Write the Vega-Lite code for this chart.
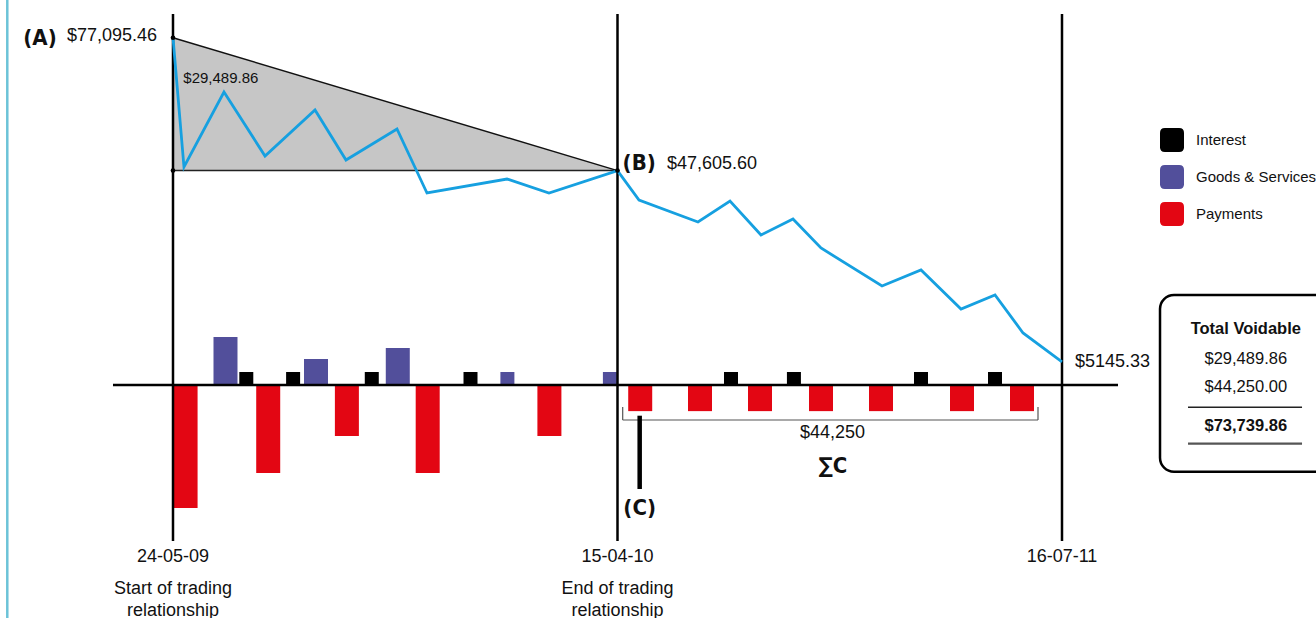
{
  "$schema": "https://vega.github.io/schema/vega-lite/v6.json",
  "width": 1316,
  "height": 618,
  "autosize": "none",
  "padding": 0,
  "background": "white",
  "config": {
    "view": {"stroke": null},
    "text": {"font": "Liberation Sans", "color": "#111111"},
    "legend": {
      "orient": "none",
      "legendX": 1160,
      "legendY": 128,
      "padding": 0,
      "symbolType": "M-0.6,-1L0.6,-1Q1,-1,1,-0.6L1,0.6Q1,1,0.6,1L-0.6,1Q-1,1,-1,0.6L-1,-0.6Q-1,-1,-0.6,-1Z",
      "symbolSize": 576,
      "symbolStrokeWidth": 0,
      "symbolOpacity": 1,
      "labelFont": "Liberation Sans",
      "labelFontSize": 15,
      "labelColor": "#111111",
      "labelOffset": 12,
      "labelLimit": 400,
      "rowPadding": 13
    }
  },
  "datasets": {
    "balance": [
      {"t": 0, "value": 77095.46},
      {"t": 2.47, "value": 48396},
      {"t": 11.47, "value": 65046},
      {"t": 20.7, "value": 50838},
      {"t": 31.95, "value": 61050},
      {"t": 38.92, "value": 49950},
      {"t": 50.39, "value": 56832},
      {"t": 57.14, "value": 42624},
      {"t": 75.14, "value": 45732},
      {"t": 84.59, "value": 42624},
      {"t": 100, "value": 47605.6},
      {"t": 104.84, "value": 41070},
      {"t": 118.11, "value": 36186},
      {"t": 125.31, "value": 40848},
      {"t": 132.28, "value": 33300},
      {"t": 139.48, "value": 36852},
      {"t": 145.78, "value": 30414},
      {"t": 159.51, "value": 21978},
      {"t": 168.28, "value": 25530},
      {"t": 177.28, "value": 16872},
      {"t": 184.93, "value": 19980},
      {"t": 191.23, "value": 11544},
      {"t": 200, "value": 5145.33}
    ],
    "transactions": [
      {"t": 2.83, "type": "Payments", "value": -27306},
      {"t": 21.42, "type": "Payments", "value": -19536},
      {"t": 39.12, "type": "Payments", "value": -11322},
      {"t": 57.3, "type": "Payments", "value": -19536},
      {"t": 84.68, "type": "Payments", "value": -11322},
      {"t": 105.11, "type": "Payments", "value": -5800},
      {"t": 118.56, "type": "Payments", "value": -5800},
      {"t": 132.06, "type": "Payments", "value": -5800},
      {"t": 145.78, "type": "Payments", "value": -5800},
      {"t": 159.28, "type": "Payments", "value": -5800},
      {"t": 177.5, "type": "Payments", "value": -5800},
      {"t": 191.0, "type": "Payments", "value": -5800},
      {"t": 11.81, "type": "Goods & Services", "value": 10656},
      {"t": 32.17, "type": "Goods & Services", "value": 5772},
      {"t": 50.57, "type": "Goods & Services", "value": 8214},
      {"t": 75.23, "type": "Goods & Services", "value": 2886},
      {"t": 98.29, "type": "Goods & Services", "value": 2886},
      {"t": 16.49, "type": "Interest", "value": 2886},
      {"t": 27.02, "type": "Interest", "value": 2886},
      {"t": 44.72, "type": "Interest", "value": 2886},
      {"t": 66.93, "type": "Interest", "value": 2886},
      {"t": 125.53, "type": "Interest", "value": 2886},
      {"t": 139.69, "type": "Interest", "value": 2886},
      {"t": 168.28, "type": "Interest", "value": 2886},
      {"t": 184.93, "type": "Interest", "value": 2886}
    ],
    "gap": [
      {"t": 0, "value": 77095.46, "base": 47605.6},
      {"t": 100, "value": 47605.6, "base": 47605.6}
    ],
    "corners": [
      {"t": 0, "value": 77095.46},
      {"t": 0, "value": 47605.6},
      {"t": 100, "value": 47605.6}
    ],
    "hrules": [
      {"t": 0, "t2": 100, "value": 47605.6, "what": "gap base"},
      {"t": -13.5, "t2": 212.6, "value": 0, "what": "zero line"}
    ],
    "phases": [
      {"t": 0, "value": 82362, "value2": -34632},
      {"t": 100, "value": 82362, "value2": -34632},
      {"t": 200, "value": 82362, "value2": -34632}
    ],
    "bracket": [
      {"t": 101.17, "t2": 194.6, "value": -7770, "value2": -7770},
      {"t": 101.17, "t2": 101.17, "value": -4884, "value2": -7770},
      {"t": 194.6, "t2": 194.6, "value": -4884, "value2": -7770}
    ]
  },
  "encoding": {
    "x": {"field": "t", "type": "quantitative", "scale": {"domain": [-38.92, 257.143], "nice": false, "zero": false, "padding": 0}, "axis": null},
    "y": {"field": "value", "type": "quantitative", "scale": {"domain": [-51726, 85470], "nice": false, "zero": false, "padding": 0}, "axis": null}
  },
  "layer": [
    {
      "data": {"values": [{"t": -37.28, "value": 85470, "value2": -51726}]},
      "mark": {"type": "rule", "color": "#6cc3d8", "strokeWidth": 2.5},
      "encoding": {"y2": {"field": "value2"}}
    },
    {
      "data": {"name": "gap"},
      "mark": {"type": "area", "color": "#c6c6c6", "opacity": 1},
      "encoding": {"y2": {"field": "base"}}
    },
    {
      "data": {"name": "gap"},
      "mark": {"type": "line", "color": "#111111", "strokeWidth": 1.4},
      "encoding": {}
    },
    {
      "data": {"name": "hrules"},
      "transform": [{"filter": "datum.what == 'gap base'"}],
      "mark": {"type": "rule", "color": "#222222", "strokeWidth": 1.4},
      "encoding": {"x2": {"field": "t2"}}
    },
    {
      "data": {"name": "transactions"},
      "transform": [{"filter": "datum.type == 'Payments' || (datum.type == 'Goods & Services' && datum.value > 4000)"}],
      "mark": {"type": "bar", "width": 24, "opacity": 1},
      "encoding": {
        "y2": {"datum": 0},
        "color": {"field": "type", "type": "nominal", "scale": {"domain": ["Interest", "Goods & Services", "Payments"], "range": ["#000000", "#524f9b", "#e30613"]}, "legend": {"title": null}}
      }
    },
    {
      "data": {"name": "transactions"},
      "transform": [{"filter": "datum.type == 'Interest' || (datum.type == 'Goods & Services' && datum.value <= 4000)"}],
      "mark": {"type": "bar", "width": 14, "opacity": 1},
      "encoding": {
        "y2": {"datum": 0},
        "color": {"field": "type", "type": "nominal", "scale": {"domain": ["Interest", "Goods & Services", "Payments"], "range": ["#000000", "#524f9b", "#e30613"]}, "legend": {"title": null}}
      }
    },
    {
      "data": {"name": "hrules"},
      "transform": [{"filter": "datum.what == 'zero line'"}],
      "mark": {"type": "rule", "color": "#000000", "strokeWidth": 2.5},
      "encoding": {"x2": {"field": "t2"}}
    },
    {
      "data": {"name": "phases"},
      "mark": {"type": "rule", "color": "#000000", "strokeWidth": 2.5},
      "encoding": {"y2": {"field": "value2"}}
    },
    {
      "data": {"name": "balance"},
      "mark": {"type": "line", "color": "#16a0e0", "strokeWidth": 2.8, "strokeJoin": "miter"},
      "encoding": {}
    },
    {
      "data": {"name": "corners"},
      "mark": {"type": "circle", "color": "#000000", "size": 22, "opacity": 1},
      "encoding": {}
    },
    {
      "data": {"name": "bracket"},
      "mark": {"type": "rule", "color": "#555555", "strokeWidth": 1.2},
      "encoding": {"x2": {"field": "t2"}, "y2": {"field": "value2"}}
    },
    {
      "data": {"values": [{"t": 104.99, "value": -6815, "value2": -23088}]},
      "mark": {"type": "rule", "color": "#000000", "strokeWidth": 4.5},
      "encoding": {"y2": {"field": "value2"}}
    },
    {
      "data": {"values": [
        {"t": -23.85, "value": 77478, "text": "$77,095.46"},
        {"t": 111.14, "value": 49062, "text": "$47,605.60"},
        {"t": 202.92, "value": 5172, "text": "$5145.33"}
      ]},
      "mark": {"type": "text", "align": "left", "baseline": "middle", "fontSize": 18},
      "encoding": {"text": {"field": "text"}}
    },
    {
      "data": {"values": [
        {"t": 2.32, "value": 68087, "text": "$29,489.86"}
      ]},
      "mark": {"type": "text", "align": "left", "baseline": "middle", "fontSize": 15},
      "encoding": {"text": {"field": "text"}}
    },
    {
      "data": {"values": [
        {"t": -29.92, "value": 76967, "text": "(A)"},
        {"t": 104.88, "value": 49217, "text": "(B)"},
        {"t": 104.99, "value": -27239, "text": "(C)"},
        {"t": 148.44, "value": -17982, "text": "∑C"}
      ]},
      "mark": {"type": "text", "align": "center", "baseline": "middle", "fontSize": 22, "fontWeight": "bold", "font": "Liberation Sans Narrow, DejaVu Sans Condensed, Liberation Sans"},
      "encoding": {"text": {"field": "text"}}
    },
    {
      "data": {"values": [
        {"t": 148.37, "value": -10730, "text": "$44,250"},
        {"t": 0, "value": -38184, "text": "24-05-09"},
        {"t": 100, "value": -38184, "text": "15-04-10"},
        {"t": 200, "value": -38184, "text": "16-07-11"},
        {"t": 0, "value": -45288, "text": "Start of trading"},
        {"t": 0, "value": -50172, "text": "relationship"},
        {"t": 100, "value": -45288, "text": "End of trading"},
        {"t": 100, "value": -50172, "text": "relationship"}
      ]},
      "mark": {"type": "text", "align": "center", "baseline": "middle", "fontSize": 18},
      "encoding": {"text": {"field": "text"}}
    },
    {
      "data": {"values": [{"t": 222.05, "t2": 262, "value": 19980, "value2": -19247}]},
      "mark": {"type": "rect", "fill": "white", "stroke": "#000000", "strokeWidth": 2.5, "cornerRadius": 14},
      "encoding": {"x2": {"field": "t2"}, "y2": {"field": "value2"}}
    },
    {
      "data": {"values": [
        {"t": 241.35, "value": 12432, "text": "Total Voidable"},
        {"t": 241.35, "value": -9176, "text": "$73,739.86"}
      ]},
      "mark": {"type": "text", "align": "center", "baseline": "middle", "fontSize": 16.5, "fontWeight": "bold"},
      "encoding": {"text": {"field": "text"}}
    },
    {
      "data": {"values": [
        {"t": 241.35, "value": 5772, "text": "$29,489.86"},
        {"t": 241.35, "value": -370, "text": "$44,250.00"}
      ]},
      "mark": {"type": "text", "align": "center", "baseline": "middle", "fontSize": 16.5},
      "encoding": {"text": {"field": "text"}}
    },
    {
      "data": {"values": [{"t": 228.35, "t2": 254.0, "value": -4951}]},
      "mark": {"type": "rule", "color": "#222222", "strokeWidth": 1.5},
      "encoding": {"x2": {"field": "t2"}}
    },
    {
      "data": {"values": [{"t": 228.35, "t2": 254.0, "value": -13024}]},
      "mark": {"type": "rule", "color": "#555555", "strokeWidth": 2.2},
      "encoding": {"x2": {"field": "t2"}}
    }
  ]
}
